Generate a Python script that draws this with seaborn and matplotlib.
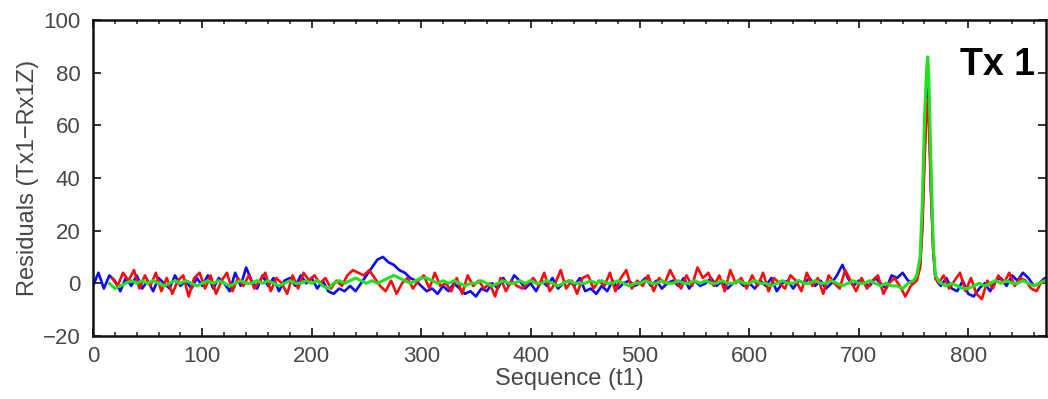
import matplotlib
matplotlib.use("Agg")
import matplotlib.pyplot as plt
from matplotlib.ticker import MultipleLocator
import seaborn as sns
import pandas as pd

# sample positions (sequence index t1)
peak_seq = [750, 753, 756, 758, 760, 762, 763, 764, 766, 768, 770, 773]
seq = list(range(0, 750, 5)) + peak_seq + list(range(775, 875, 5))
seq_red = [17.5 + 5 * i for i in range(147)] + peak_seq + [777.5 + 5 * i for i in range(20)]

blue_vals = [
    -1, 4, -2, 3, 1, -3, 2, -1, 3, -2,
    1, -3, 2, 0, -2, 3, -1, 1, -2, 2,
    -1, 3, -2, 2, 0, -3, 4, -1, 6, 1,
    -2, 3, -1, 2, -3, 1, 2, -1, 3, 0,
    2, -2, 1, -3, -4, -2, -3, -1, -3, 0,
    3, 6, 9, 10, 8, 7, 5, 4, 2, 1,
    -1, -3, -2, -4, -1, -3, 0, -2, -4, -3,
    -5, -2, -3, 0, -2, 2, -1, 3, 1, -2,
    0, -3, 1, -1, 2, -2, 0, 1, -1, 2,
    -3, -2, -4, -1, -3, 1, -2, 0, 1, -1,
    0, 2, -1, 1, -2, 0, 1, -1, 2, -2,
    1, -1, 0, 2, -1, 1, -2, 0, 1, -1,
    0, -2, 1, -1, 2, -3, 0, 1, -2, 1,
    0, 2, -1, 1, -2, 0, 3, 7, 2, -1,
    1, 0, -1, 2, 0, -2, 3, 2, 4, 1,
    0, 2, 7, 22, 50, 70, 74, 66, 36, 13, 2, 0,
    -1, 2, -2, -3, 1, -4, -5, -2, 0, -3, 1, 2, -1, 3, 1, 4, 2, -1, 0, 2,
]

red_vals = [
    2, -1, 4, 1, 5, -2, 3,
    -1, 4, -3, 2, -4, 1, 3, -5, 2, 4,
    -2, 3, -4, 1, 4, -3, 2, -1, 3, -2,
    1, 4, -3, 2, 0, -4, 3, -2, 4, 1,
    3, 0, 2, -2, 1, -1, 3, 5, 4, 3,
    5, 2, -1, -3, 1, -4, 0, 2, -2, 1,
    3, -2, 4, -1, 0, -3, 2, -4, 3, -1,
    1, -2, 0, -5, 2, -3, 1, -1, -2, 0,
    2, -1, 4, -3, 0, 5, -2, 1, -4, 2,
    3, -2, 1, -1, 4, -3, 2, 5, -2, 1,
    -1, 3, -3, 2, 0, 5, 1, -2, 3, -1,
    6, 2, 4, -1, 3, -3, 5, 0, 2, -2,
    3, -1, 4, -3, 2, 0, -2, 3, 1, -3,
    4, -1, 2, -4, 3, 0, -2, 5, 1, -3,
    2, -2, 1, 3, -4, 0, 2, -1, -5, -1,
    0, 1, 6, 20, 46, 66, 70, 62, 34, 12, 2, 0,
    3, -2, 1, 4, -3, 2, -4, -6, 1, -2, 3, 0, 4, -1, 2, 1, -2, -3, 1, 0,
]

green_vals = [
    0, -2, -1, 0, 1, 0, 1,
    0, 1, 0, -1, 0, 1, 0, 1, 0, -1,
    0, 1, 0, 1, 0, -1, 0, 1, 0, 0,
    1, 0, 1, 0, -1, 0, 1, 0, 0, 1,
    0, 1, -1, -2, 0, 1, 0, 1, 2, 1,
    0, 1, 0, 1, 2, 3, 2, 1, 0, 1,
    2, 2, 1, 0, 1, 0, 1, 0, -1, 0,
    0, 1, 0, -1, 0, 1, 0, 0, 1, 0,
    1, 0, 0, 1, 0, -1, 0, 1, 0, 0,
    0, 1, 0, 1, 0, 0, 1, 0, -1, 0,
    0, 1, 0, 0, 1, 0, 0, 1, 0, 0,
    1, 0, 1, 0, 0, 1, 0, 0, 1, 0,
    0, 1, 0, 0, -1, 0, 1, 0, 0, 1,
    0, 0, 1, 0, 0, 1, 0, -1, 0, 1,
    0, 0, 1, 0, -1, 0, -1, -1, -2, 0,
    1, 3, 10, 30, 62, 82, 86, 78, 45, 15, 3, 1,
    0, -1, 0, -1, -2, -2, -1, 0, -1, 0, 1, 0, 1, 0, 0, 1, 0, -1, 0, 1,
]

x_ticks = [0, 100, 200, 300, 400, 500, 600, 700, 800]
y_ticks = [-20, 0, 20, 40, 60, 80, 100]

sns.set_style("white")
plt.rcParams['font.family'] = ['Liberation Sans', 'DejaVu Sans']

fig = plt.figure(figsize=(10.48, 3.99), dpi=100)
ax = fig.add_axes([0.0887, 0.158, 0.998 - 0.0887, 0.95 - 0.158])

df_b = pd.DataFrame({"t": seq[:len(blue_vals)], "r": blue_vals})
df_r = pd.DataFrame({"t": seq_red[:len(red_vals)], "r": red_vals})
df_g = pd.DataFrame({"t": seq[3:3 + len(green_vals)], "r": green_vals})

sns.lineplot(data=df_b, x="t", y="r", ax=ax, color="#0a0aff", lw=1.9, sort=False, estimator=None)
sns.lineplot(data=df_r, x="t", y="r", ax=ax, color="#ff0a0a", lw=1.9, sort=False, estimator=None)
sns.lineplot(data=df_g, x="t", y="r", ax=ax, color="#22e022", lw=2.2, sort=False, estimator=None)

ax.set_xlim(0, 871)
ax.set_ylim(-20, 100)
ax.set_xticks(x_ticks)
ax.set_yticks(y_ticks)
ax.set_xticklabels([str(v) for v in x_ticks])
ax.set_yticklabels(["\u221220" if v < 0 else str(v) for v in y_ticks])
ax.xaxis.set_minor_locator(MultipleLocator(20))

txt_col = "#474747"
ax.tick_params(which="both", direction="in", top=True, right=True, bottom=True, left=True,
               colors="#222222", labelcolor=txt_col, labelsize=16)
ax.tick_params(which="major", length=6, width=1.3)
ax.tick_params(which="minor", length=3, width=1.1)
ax.tick_params(axis="x", pad=7)
ax.tick_params(axis="y", pad=9)

for s in ax.spines.values():
    s.set_visible(True)
    s.set_color("#111111")
    s.set_linewidth(1.8)

ax.set_xlabel("Sequence (t1)", fontsize=17, color=txt_col, labelpad=1)
ax.set_ylabel("Residuals (Tx1\u2212Rx1Z)", fontsize=17, color=txt_col, labelpad=3)

ax.text(861, 79, "Tx 1", fontsize=27, fontweight="bold", color="black", ha="right", va="baseline")

fig.savefig("out.png", dpi=100)
